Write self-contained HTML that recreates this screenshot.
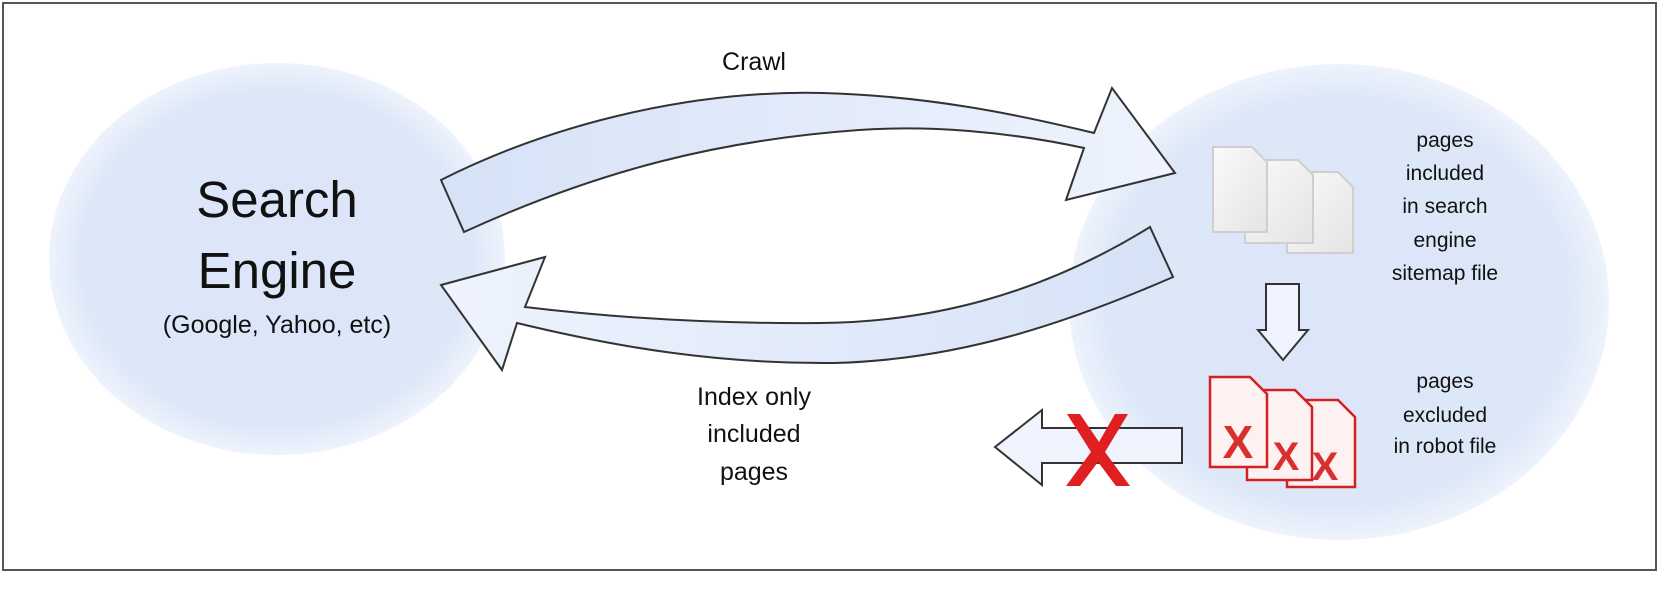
<!DOCTYPE html>
<html><head><meta charset="utf-8"><style>
html,body{margin:0;padding:0;background:#fff;}
svg{display:block;}
text{font-family:"Liberation Sans",Arial,sans-serif;fill:#111;}
</style></head><body>
<svg width="1660" height="606" viewBox="0 0 1660 606" xmlns="http://www.w3.org/2000/svg">
<defs>
<radialGradient id="eg" cx="50%" cy="50%" r="50%">
<stop offset="0" stop-color="#dbe6f8"/><stop offset="0.85" stop-color="#dde7f8"/><stop offset="1" stop-color="#eef3fc"/>
</radialGradient>
<linearGradient id="ag" x1="0" y1="0" x2="1" y2="0">
<stop offset="0" stop-color="#d6e2f7"/><stop offset="1" stop-color="#eef3fd"/>
</linearGradient>
<linearGradient id="ag2" x1="1" y1="0" x2="0" y2="0">
<stop offset="0" stop-color="#d6e2f7"/><stop offset="1" stop-color="#eef3fd"/>
</linearGradient>
<linearGradient id="dg" x1="0" y1="0" x2="1" y2="1">
<stop offset="0" stop-color="#fafafa"/><stop offset="1" stop-color="#e4e4e4"/>
</linearGradient>
</defs>
<rect x="0" y="0" width="1660" height="606" fill="#fff"/>
<rect x="3" y="3" width="1653" height="567" fill="#fff" stroke="#555" stroke-width="2"/>
<ellipse cx="277" cy="259" rx="228" ry="196" fill="url(#eg)"/>
<ellipse cx="1339" cy="302" rx="270" ry="238" fill="url(#eg)"/>

<!-- Crawl arrow -->
<path d="M441,180 C560,120 700,90 823,93 C930,96 1020,115 1094,133 L1112,88 L1175,173 L1066,200 L1084,148 C1010,132 930,125 859,130 C720,140 600,170 464,232 Z" fill="url(#ag)" stroke="#333" stroke-width="2" stroke-linejoin="miter"/>
<!-- Return arrow -->
<path d="M1150,227 C1040,295 930,322 820,323 C700,324 600,316 525,307 L545,257 L441,285 L502,370 L517,323 C620,348 720,364 834,363 C960,360 1070,322 1173,277 Z" fill="url(#ag2)" stroke="#333" stroke-width="2"/>

<text x="754" y="70" font-size="25" text-anchor="middle">Crawl</text>
<text x="277" y="217" font-size="51" text-anchor="middle">Search</text>
<text x="277" y="288" font-size="51" text-anchor="middle">Engine</text>
<text x="277" y="333" font-size="25" text-anchor="middle">(Google, Yahoo, etc)</text>
<text x="754" y="405" font-size="25" text-anchor="middle">Index only</text>
<text x="754" y="442" font-size="25" text-anchor="middle">included</text>
<text x="754" y="480" font-size="25" text-anchor="middle">pages</text>

<g font-size="21" text-anchor="middle">
<text x="1445" y="147">pages</text>
<text x="1445" y="180">included</text>
<text x="1445" y="213">in search</text>
<text x="1445" y="247">engine</text>
<text x="1445" y="280">sitemap file</text>
<text x="1445" y="388">pages</text>
<text x="1445" y="422">excluded</text>
<text x="1445" y="453">in robot file</text>
</g>

<!-- gray docs -->
<g stroke="#cfcfcf" stroke-width="2" fill="url(#dg)">
<path d="M1287,172 L1338,172 L1353,187 L1353,253 L1287,253 Z"/>
<path d="M1245,160 L1298,160 L1313,175 L1313,243 L1245,243 Z"/>
<path d="M1213,147 L1252,147 L1267,162 L1267,232 L1213,232 Z"/>
</g>

<!-- down arrow -->
<path d="M1266,284 L1299,284 L1299,330 L1308,330 L1283,360 L1258,330 L1266,330 Z" fill="#eef3fd" stroke="#333" stroke-width="2"/>

<!-- red docs -->
<g stroke="#d42020" stroke-width="2.5" fill="#fdf1f1">
<path d="M1287,400 L1338,400 L1355,417 L1355,487 L1287,487 Z"/>
<path d="M1247,390 L1295,390 L1312,407 L1312,480 L1247,480 Z"/>
<path d="M1210,377 L1250,377 L1267,394 L1267,467 L1210,467 Z"/>
</g>
<g font-weight="bold">
<text x="1238" y="458" font-size="46" text-anchor="middle" style="fill:#d83030">X</text>
<text x="1286" y="470" font-size="40" text-anchor="middle" style="fill:#d83030">X</text>
<text x="1325" y="480" font-size="40" text-anchor="middle" style="fill:#d83030">X</text>
</g>

<!-- left hollow arrow -->
<path d="M1182,428 L1042,428 L1042,410 L995,447 L1042,485 L1042,463 L1182,463 Z" fill="#eef3fd" stroke="#333" stroke-width="2"/>
<!-- red X -->
<path d="M1067,414 L1080,414 L1099,442 L1115,414 L1128,414 L1105,452 L1130,486 L1116,486 L1098,462 L1080,486 L1066,486 L1091,452 Z" fill="#e02020"/>
</svg>
</body></html>
